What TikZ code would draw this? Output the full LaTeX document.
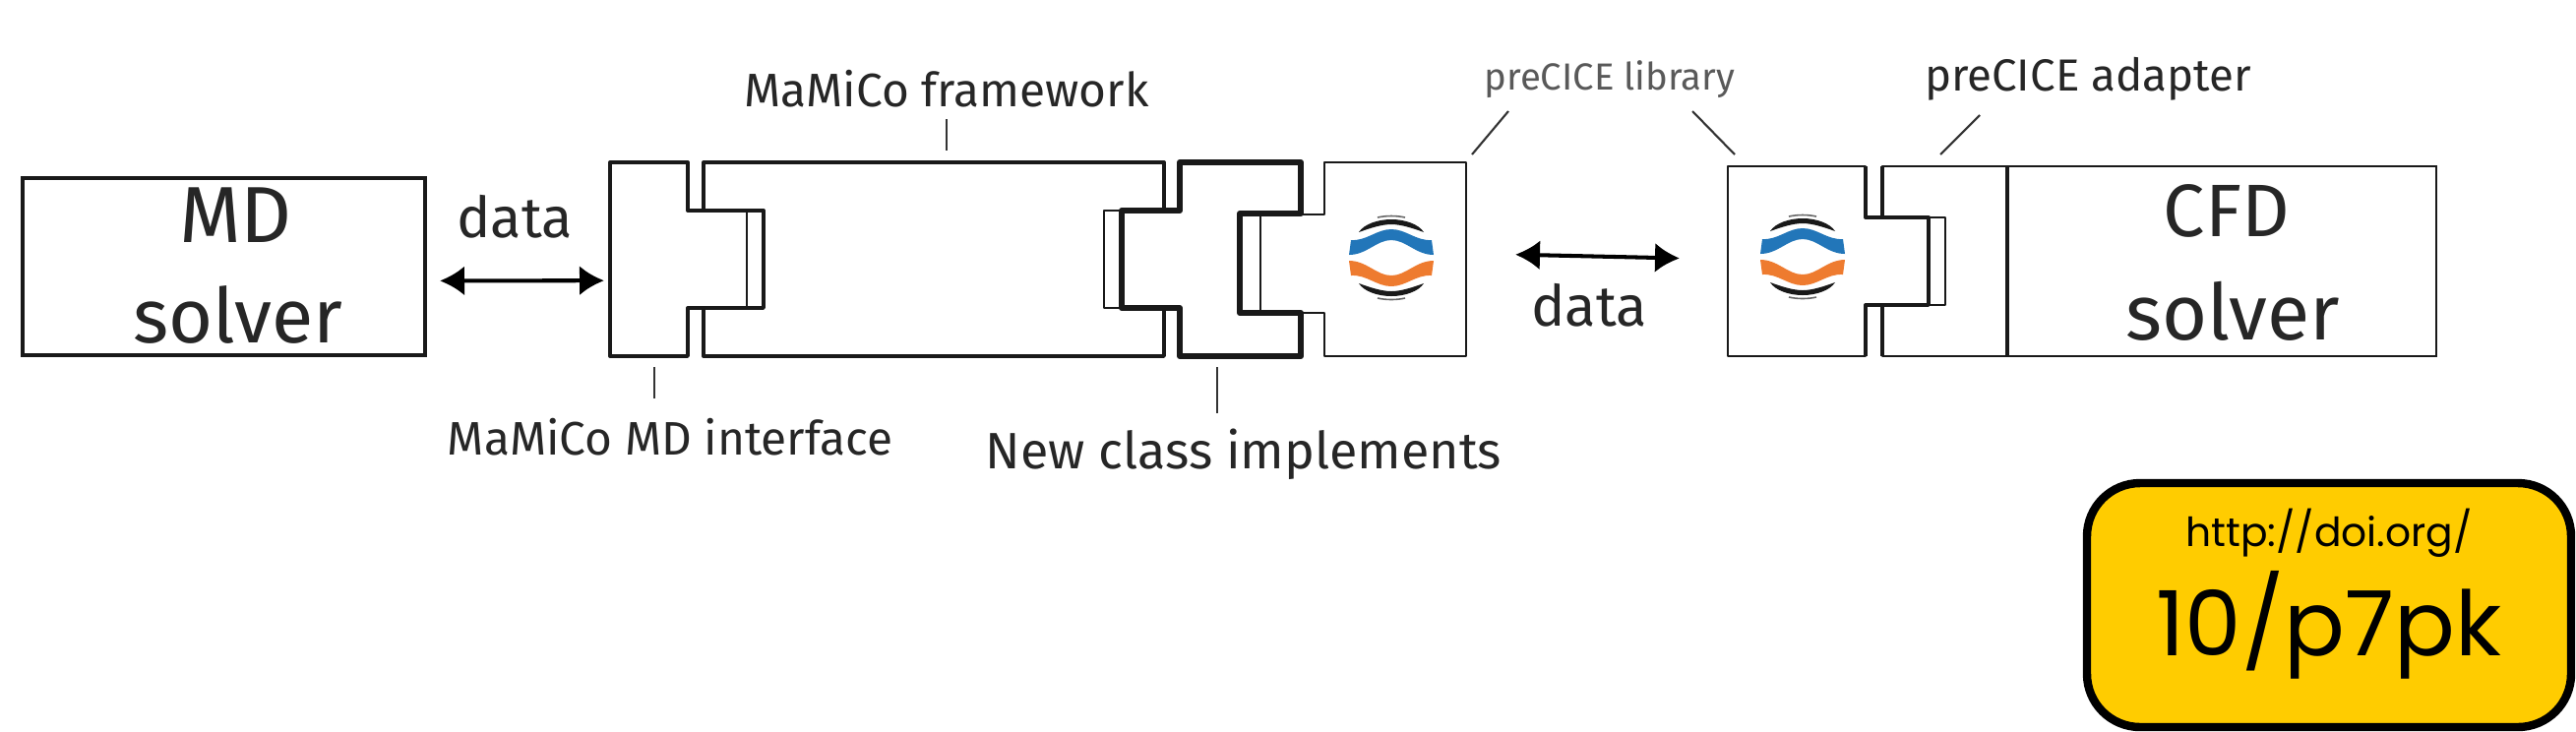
\documentclass[tikz,border=0pt]{standalone}
\usepackage{fontspec}
\setmainfont{Fira Sans}
\newfontfamily\badgefont{Poppins}
\usetikzlibrary{calc,positioning,arrows.meta}

\definecolor{logoblue}{HTML}{2276B9}
\definecolor{logoorange}{HTML}{EE7B2F}
\definecolor{badgeyellow}{HTML}{FFCC00}

\newcommand{\precicelogo}[1]{%
  \begin{scope}[shift={(#1)}]
    \fill[logoblue] (-43,-3) -- (-41,-18) .. controls (-25,-17) and (-15,-29) .. (0,-29) .. controls (15,-29) and (25,-17) .. (41,-18) -- (43,-3) .. controls (25,-3) and (15,-18) .. (0,-18) .. controls (-15,-18) and (-25,-3) .. (-43,-3) -- cycle;
    \fill[logoorange] (-43,3) -- (-41,18) .. controls (-25,17) and (-15,29) .. (0,29) .. controls (15,29) and (25,17) .. (41,18) -- (43,3) .. controls (25,3) and (15,18) .. (0,18) .. controls (-15,18) and (-25,3) .. (-43,3) -- cycle;
    \foreach \s in {1,-1} {
      \fill[black!90,yscale=\s] (-33,-26) .. controls (-28,-34) and (-14,-39) .. (0,-39) .. controls (14,-39) and (28,-34) .. (33,-26) .. controls (22,-30) and (10,-34) .. (0,-34) .. controls (-10,-34) and (-22,-30) .. (-33,-26) -- cycle;
      \draw[black!60,line width=0.45pt,yscale=\s] (-14,-41) .. controls (-5,-43) and (5,-43) .. (14,-41);
    }
  \end{scope}}

\begin{document}
\begin{tikzpicture}[x=0.1mm,y=-0.1mm]

\tikzstyle{block} = [rectangle,draw=black!90,line width=0.9pt,inner sep=0,outer sep=0]
\tikzstyle{blocktext} = [inner sep=0,anchor=base,text=black!85,font=\fontsize{23}{26}\selectfont]
\tikzstyle{portbox} = [rectangle,inner sep=0,outer sep=0]
\tikzstyle{piece} = [draw=black!90,line width=0.95pt,line join=round]
\tikzstyle{thinpiece} = [draw=black!90,line width=0.7pt,line join=round]
\tikzstyle{boldpiece} = [draw=black!90,line width=1.7pt,line join=round]
\tikzstyle{divider} = [draw=black!90,line width=0.35pt]
\tikzstyle{caption} = [inner sep=0,anchor=base,text=black!85,font=\fontsize{13.6}{16}\selectfont]
\tikzstyle{leader} = [draw=black!80,line width=0.6pt]
\tikzstyle{dataarc} = [{Latex[length=2.5mm,width=3mm]}-{Latex[length=2.5mm,width=3mm]},line width=1.15pt]
\tikzstyle{datalabel} = [inner sep=0,anchor=base,text=black!85,font=\fontsize{16.4}{18}\selectfont]

\useasboundingbox (0,0) rectangle (2618,743);

% solvers
\node[block,minimum width=40.9mm,minimum height=18mm] (mdsolver) at (227.5,271) {};
\node[block,line width=0.7pt,minimum width=43.6mm,minimum height=19.3mm] (cfdsolver) at (2258,265.5) {};
\node[blocktext] (mdname) at (239.5,246) {MD};
\node[blocktext,font=\fontsize{22}{26}\selectfont] (mdkind) at (242,348) {solver};
\node[blocktext,font=\fontsize{21.5}{26}\selectfont] (cfdname) at (2263,240) {CFD};
\node[blocktext,font=\fontsize{22.5}{26}\selectfont] (cfdkind) at (2269,345) {solver};

% MaMiCo MD interface
\node[portbox,minimum width=15.6mm,minimum height=19.7mm] (mdiface) at (698,263.5) {};
\draw[piece] (699,214) -- (699,165) -- (620,165) -- (620,362) -- (699,362) -- (699,313) -- (776,313) -- (776,214) -- cycle;
\draw[divider] (759,214) -- (759,313);

% MaMiCo framework
\draw[piece] (715,214) -- (715,165) -- (1183,165) -- (1183,214);
\draw[piece] (715,313) -- (715,362) -- (1183,362) -- (1183,313);
\draw[thinpiece] (1141,214) -- (1122,214) -- (1122,313) -- (1141,313);

% new class
\draw[thinpiece] (1260,217) -- (1281,217) -- (1281,318) -- (1260,318);
\draw[boldpiece] (1140,214) -- (1199,214) -- (1199,165) -- (1322,165) -- (1322,217) -- (1260,217) -- (1260,318) -- (1322,318) -- (1322,362) -- (1199,362) -- (1199,313) -- (1140,313) -- cycle;

% preCICE library, left
\node[portbox,minimum width=14.4mm,minimum height=19.7mm] (libleft) at (1418,263.5) {};
\draw[thinpiece] (1322,218) -- (1346,218) -- (1346,165) -- (1490,165) -- (1490,362) -- (1346,362) -- (1346,318) -- (1322,318);
\precicelogo{1414,262}

% preCICE library, right
\node[portbox,minimum width=14mm,minimum height=19.3mm] (libright) at (1826,265.5) {};
\draw[thinpiece] (1896,221) -- (1896,169) -- (1756,169) -- (1756,362) -- (1896,362) -- (1896,310);
\draw[piece] (1896,169) -- (1896,221) -- (1960,221) -- (1960,310) -- (1896,310) -- (1896,362);
\precicelogo{1832,261}

% preCICE adapter
\draw[thinpiece] (1913,221) -- (1913,169) -- (2040,169);
\draw[thinpiece] (1913,310) -- (1913,362) -- (2040,362);
\draw[piece] (1913,169) -- (1913,221);
\draw[piece] (1913,310) -- (1913,362);
\draw[piece] (2040,169) -- (2040,362);
\draw[thinpiece] (1960,221) -- (1977,221) -- (1977,310) -- (1960,310);

% data exchange
\draw[dataarc,shorten <=1.5mm,shorten >=0.6mm] ($(mdsolver.north east)!0.58!(mdsolver.south east)$) -- ($(mdiface.north west)!0.61!(mdiface.south west)$);
\draw[dataarc,shorten <=5mm,shorten >=4.9mm] ($(libleft.north east)!0.47!(libleft.south east)$) -- ($(libright.north west)!0.49!(libright.south west)$);
\node[datalabel] (dataleft) at (523,241) {data};
\node[datalabel] (dataright) at (1615,331) {data};

% captions
\node[caption] (framelabel) at (962,108) {MaMiCo framework};
\node[caption,font=\fontsize{10.9}{13}\selectfont,text=black!65] (liblabel) at (1636,91) {preCICE library};
\node[caption,font=\fontsize{13}{15}\selectfont] (adapterlabel) at (2122,92) {preCICE adapter};
\node[caption] (ifacelabel) at (681,462) {MaMiCo MD interface};
\node[caption,font=\fontsize{14.8}{17}\selectfont] (classlabel) at (1264,476) {New class implements};

% leaders
\coordinate (frametop) at (962,121);
\coordinate (framebar) at (962,153);
\coordinate (libtopa) at (1533,113);
\coordinate (libbara) at (1496,157);
\coordinate (libtopb) at (1720,113);
\coordinate (libbarb) at (1763,157);
\coordinate (adaptertop) at (2012,117);
\coordinate (adapterbar) at (1972,157);
\coordinate (ifacetop) at (665,373);
\coordinate (ifacebar) at (665,405);
\coordinate (classtop) at (1237,373);
\coordinate (classbar) at (1237,420);
\draw[leader] (frametop) -- (framebar);
\draw[leader] (libtopa) -- (libbara);
\draw[leader] (libtopb) -- (libbarb);
\draw[leader] (adaptertop) -- (adapterbar);
\draw[leader] (ifacetop) -- (ifacebar);
\draw[leader] (classtop) -- (classbar);

% doi badge
\node[draw=black,fill=badgeyellow,line width=2.4pt,rounded corners=5.4mm,minimum width=49.2mm,minimum height=24.8mm,inner sep=0] (doibadge) at (2367,615) {};
\node[inner sep=0,anchor=base,font=\badgefont\fontsize{11.6}{14}\selectfont] (doiurl) at (2367,555) {http://doi.org/};
\node[inner sep=0,anchor=base,font=\badgefont\fontsize{26}{30}\selectfont] (doicode) at (2367,666) {10/p7pk};

\end{tikzpicture}
\end{document}
